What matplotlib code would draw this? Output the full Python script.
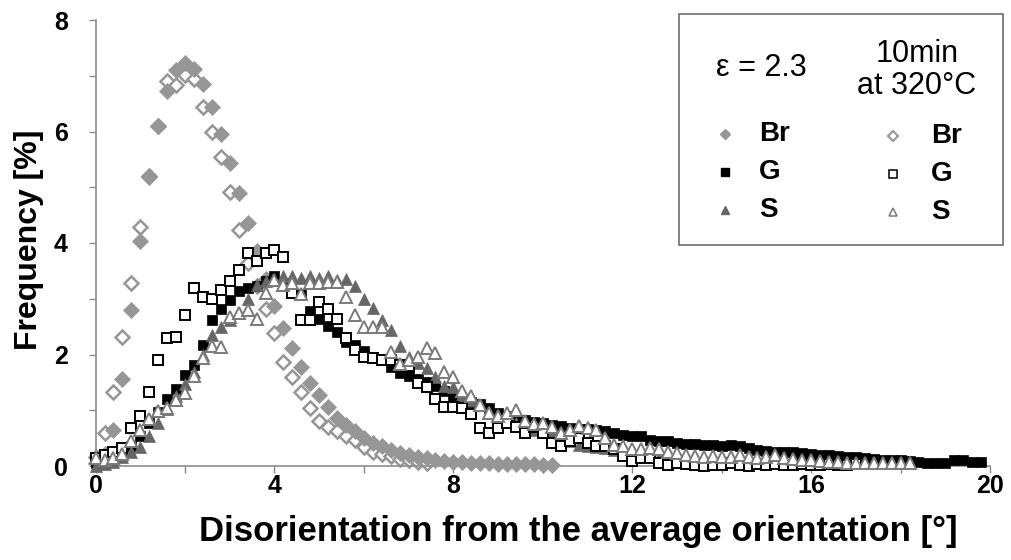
import numpy as np
import matplotlib
matplotlib.use("Agg")
import matplotlib.pyplot as plt

# Histogram bin width of the disorientation distribution [deg]
BIN_WIDTH = 0.2

# eps = 2.3 (as deformed) - filled markers
br_deformed = [0.05, 0.22, 0.65, 1.56, 2.80, 4.04, 5.19, 6.10, 6.73, 7.10,
               7.23, 7.12, 6.85, 6.44, 5.96, 5.43, 4.90, 4.35, 3.85, 3.35,
               2.87, 2.47, 2.11, 1.78, 1.49, 1.27, 1.05, 0.86, 0.74, 0.62,
               0.50, 0.42, 0.35, 0.29, 0.23, 0.20, 0.17, 0.14, 0.11, 0.09,
               0.08, 0.07, 0.06, 0.05, 0.05, 0.04, 0.04, 0.03, 0.03, 0.03,
               0.02, 0.02]
g_deformed = [0.06, 0.12, 0.17, 0.24, 0.36, 0.53, 0.78, 0.97, 1.21, 1.38,
              1.63, 1.81, 2.17, 2.62, 2.81, 2.98, 3.14, 3.19, 3.23, 3.31,
              3.41, 3.28, 3.10, 3.08, 2.78, 2.63, 2.51, 2.40, 2.23, 2.17,
              2.07, 1.95, 1.92, 1.78, 1.66, 1.62, 1.56, 1.50, 1.44, 1.35,
              1.24, 1.20, 1.15, 1.12, 1.04, 0.95, 0.89, 0.83, 0.82, 0.79,
              0.77, 0.74, 0.71, 0.69, 0.67, 0.66, 0.64, 0.62, 0.60, 0.55,
              0.54, 0.53, 0.46, 0.44, 0.44, 0.42, 0.40, 0.40, 0.38, 0.37,
              0.36, 0.37, 0.35, 0.32, 0.28, 0.27, 0.26, 0.26, 0.25, 0.24,
              0.21, 0.20, 0.19, 0.18, 0.16, 0.16, 0.14, 0.13, 0.11, 0.10,
              0.10, 0.09, 0.08, 0.06, 0.05, 0.06, 0.10, 0.10, 0.08, 0.07]
s_deformed = [0.00, 0.03, 0.08, 0.16, 0.26, 0.34, 0.53, 0.77, 1.02, 1.26,
              1.47, 1.69, 2.00, 2.35, 2.49, 2.62, 2.74, 3.00, 3.25, 3.31,
              3.33, 3.41, 3.41, 3.38, 3.40, 3.37, 3.40, 3.34, 3.35, 3.22,
              2.99, 2.83, 2.62, 2.44, 2.15, 1.96, 1.84, 1.76, 1.59, 1.44,
              1.41, 1.27, 1.18, 1.10, 0.97, 0.90, 0.80, 0.78, 0.65, 0.65,
              0.62, 0.59, 0.49, 0.44, 0.38, 0.35, 0.34, 0.32, 0.29, 0.26,
              0.23, 0.21, 0.20, 0.17, 0.17, 0.14, 0.14, 0.13, 0.12, 0.12,
              0.11, 0.11, 0.11, 0.10, 0.10, 0.10, 0.10, 0.10, 0.09, 0.09,
              0.09, 0.08, 0.08, 0.08, 0.07]

# 10 min at 320 C (annealed) - open markers
br_annealed = [0.17, 0.60, 1.32, 2.31, 3.28, 4.29, 5.20, 6.10, 6.91, 6.84,
               7.02, 6.94, 6.44, 6.00, 5.55, 4.91, 4.24, 3.64, 3.22, 2.81,
               2.38, 1.87, 1.60, 1.33, 1.04, 0.80, 0.70, 0.62, 0.54, 0.47,
               0.34, 0.26, 0.21, 0.18, 0.12, 0.10, 0.08, 0.06]
g_annealed = [0.15, 0.20, 0.26, 0.32, 0.68, 0.89, 1.33, 1.90, 2.29, 2.32,
              2.70, 3.19, 3.04, 3.00, 3.16, 3.31, 3.51, 3.82, 3.67, 3.82,
              3.87, 3.75, 3.10, 2.62, 2.62, 2.95, 2.81, 2.63, 2.30, 2.08,
              1.96, 1.94, 1.90, 1.90, 1.81, 1.80, 1.48, 1.42, 1.20, 1.06,
              1.05, 1.04, 0.93, 0.69, 0.59, 0.68, 0.78, 0.70, 0.59, 0.70,
              0.59, 0.41, 0.35, 0.45, 0.50, 0.42, 0.36, 0.35, 0.30, 0.18,
              0.09, 0.14, 0.14, 0.06, 0.02, 0.05, 0.03, 0.02, 0.00, 0.02,
              0.01, 0.05, 0.02, 0.00, 0.03, 0.02, 0.04, 0.01, 0.02, 0.03,
              0.01, 0.02, 0.03, 0.01, 0.02, 0.03]
s_annealed = [0.15, 0.10, 0.15, 0.22, 0.45, 0.65, 0.85, 0.98, 1.04, 1.18,
              1.31, 1.62, 1.93, 2.15, 2.14, 2.68, 2.75, 2.79, 2.63, 3.10,
              3.34, 3.25, 3.28, 3.08, 3.28, 3.28, 3.30, 3.30, 3.04, 2.71,
              2.49, 2.49, 2.50, 2.05, 1.83, 1.90, 1.95, 2.11, 2.02, 1.69,
              1.59, 1.35, 1.25, 1.10, 0.95, 0.90, 0.95, 1.01, 0.80, 0.75,
              0.78, 0.70, 0.60, 0.65, 0.71, 0.69, 0.65, 0.50, 0.38, 0.35,
              0.30, 0.30, 0.32, 0.30, 0.25, 0.24, 0.20, 0.18, 0.17, 0.18,
              0.16, 0.17, 0.20, 0.16, 0.15, 0.16, 0.20, 0.14, 0.12, 0.11,
              0.10, 0.09, 0.08, 0.07, 0.06, 0.05, 0.06, 0.05, 0.05, 0.06,
              0.05, 0.05]

x_ticks = [0, 4, 8, 12, 16, 20]
y_ticks = [0, 2, 4, 6, 8]
x_label = "Disorientation from the average orientation [°]"
y_label = "Frequency [%]"
strain_text = "ε = 2.3"
anneal_text = "10min\nat 320°C"
component_names = ["Br", "G", "S"]

FONT = ["Liberation Sans", "DejaVu Sans"]
plt.rcParams["font.family"] = FONT

LIGHT = "#969696"
DARK = "#666666"
OPEN_S_EDGE = "#7a7a7a"
AXIS_GREY = "#8c8c8c"

W, H = 1011, 560
fig = plt.figure(figsize=(W / 100, H / 100), dpi=100)
ax = fig.add_axes([95.6 / W, 1 - 466 / H, (990 - 95.6) / W, (466 - 20) / H])


def bins(values):
    return np.arange(len(values)) * BIN_WIDTH


filled_styles = [
    (br_deformed, dict(marker="D", ms=8.0, color=LIGHT, mec=LIGHT, mew=0.5)),
    (g_deformed, dict(marker="s", ms=7.4, color="black", mec="black", mew=0.5)),
    (s_deformed, dict(marker="^", ms=8.6, color=DARK, mec=DARK, mew=0.5)),
]
open_styles = [
    (br_annealed, dict(marker="D", ms=7.4, mfc="white", mec=LIGHT, mew=1.8)),
    (g_annealed, dict(marker="s", ms=7.4, mfc="white", mec="black", mew=1.4)),
    (s_annealed, dict(marker="^", ms=8.6, mfc="white", mec=OPEN_S_EDGE, mew=1.4)),
]

# open Br sits underneath the filled Br; the others are drawn on top
ax.plot(bins(br_annealed), br_annealed, ls="none", clip_on=False, zorder=2,
        **open_styles[0][1])
for vals, st in filled_styles:
    ax.plot(bins(vals), vals, ls="none", clip_on=False, zorder=3, **st)
for vals, st in open_styles[1:]:
    ax.plot(bins(vals), vals, ls="none", clip_on=False, zorder=4, **st)

ax.set_xlim(0, 20)
ax.set_ylim(0, 8)
ax.set_xticks(x_ticks)
ax.set_xticks([2, 6, 10, 14, 18], minor=True)
ax.set_yticks(y_ticks)
ax.set_yticks([1, 3, 5, 7], minor=True)
ax.set_xticklabels([str(t) for t in x_ticks], fontsize=18, fontweight="bold")
ax.set_yticklabels([str(t) for t in y_ticks], fontsize=18, fontweight="bold")
for which in ("major", "minor"):
    ax.tick_params(axis="both", which=which, direction="out", length=5,
                   width=1, color=AXIS_GREY)
ax.tick_params(axis="y", which="major", pad=15)
ax.tick_params(axis="x", which="major", pad=1)
for side in ("top", "right"):
    ax.spines[side].set_visible(False)
for side in ("left", "bottom"):
    ax.spines[side].set_color(AXIS_GREY)
    ax.spines[side].set_linewidth(1.2)

# overlay in pixel units for the axis titles and the key box
ov = fig.add_axes([0, 0, 1, 1], facecolor="none")
ov.set_xlim(0, W)
ov.set_ylim(H, 0)
ov.axis("off")

ov.text(578, 531, x_label, ha="center", va="center", fontsize=25,
        fontweight="bold")
ov.text(29, 240, y_label, ha="center", va="center", fontsize=23,
        fontweight="bold", rotation=90)

ov.add_patch(plt.Rectangle((679, 14), 324, 231, fill=False,
                           edgecolor="#6e6e6e", lw=1.2))
ov.text(761, 68, strain_text, ha="center", va="center", fontsize=22)
ov.text(917, 70, anneal_text, ha="center", va="center", fontsize=22,
        linespacing=1.1)

row_y = [134, 172, 210]
leg_filled = [dict(marker="D", ms=5.5, color=LIGHT),
              dict(marker="s", ms=5.5, color="black"),
              dict(marker="^", ms=6.4, color=DARK)]
leg_open = [dict(marker="D", ms=5.2, mfc="white", mec=LIGHT, mew=1.5),
            dict(marker="s", ms=5.4, mfc="white", mec="black", mew=1.1),
            dict(marker="^", ms=6.4, mfc="white", mec=OPEN_S_EDGE, mew=1.1)]
for yy, name, fs, os_ in zip(row_y, component_names, leg_filled, leg_open):
    ov.plot([725], [yy], ls="none", **fs)
    ov.text(759, yy, name, ha="left", va="center", fontsize=20,
            fontweight="bold")
    ov.plot([893], [yy + 2], ls="none", **os_)
    ov.text(931, yy + 2, name, ha="left", va="center", fontsize=20,
            fontweight="bold")

fig.savefig("out.png", dpi=100)
